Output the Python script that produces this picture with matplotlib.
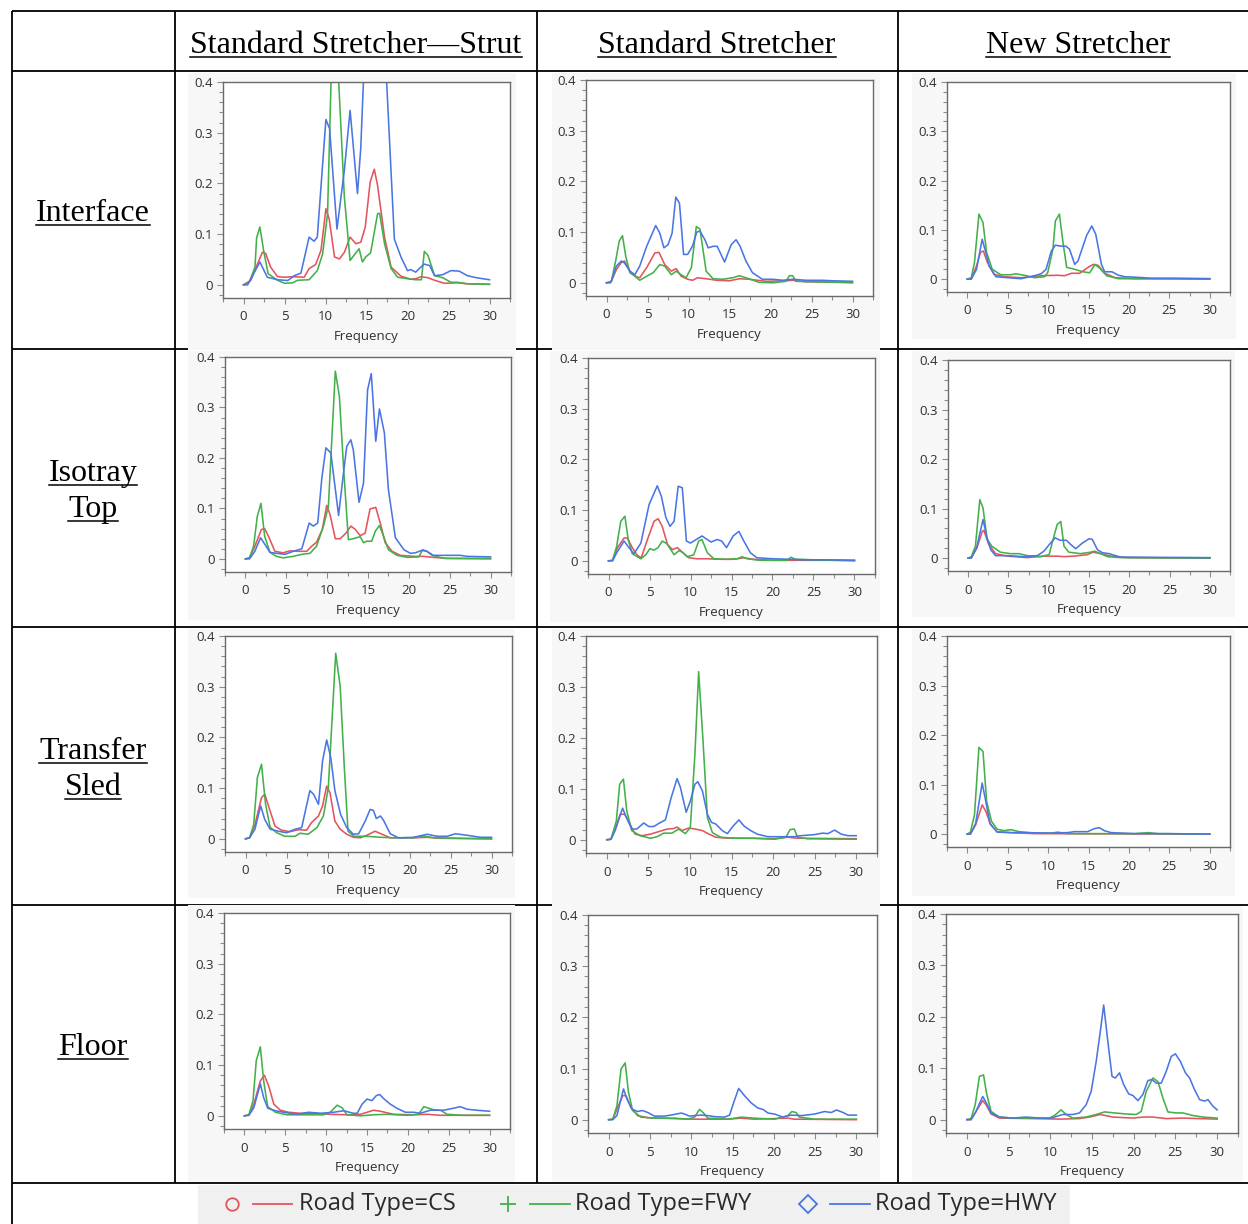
import matplotlib
matplotlib.use("Agg")
import matplotlib.pyplot as plt
from matplotlib.lines import Line2D
from matplotlib.patches import Rectangle
from matplotlib.ticker import MultipleLocator, FixedLocator

# ---------------- data (frequency, value) ----------------
ROW_LABELS = [["Interface"], ["Isotray", "Top"], ["Transfer", "Sled"], ["Floor"]]
COL_LABELS = ["Standard Stretcher\u2014Strut", "Standard Stretcher", "New Stretcher"]
SERIES_NAMES = ["Road Type=CS", "Road Type=FWY", "Road Type=HWY"]
X_TICKS = [0, 5, 10, 15, 20, 25, 30]
Y_TICKS = [0, 0.1, 0.2, 0.3, 0.4]
Y_TICK_LABELS = ["0", "0.1", "0.2", "0.3", "0.4"]

# Interface / Standard Stretcher - Strut
iface_strut_cs = [(0,0),(0.9,0.009),(1.7,0.041),(2.3,0.064),(2.7,0.062),(3.3,0.035),(4.15,0.016),(5.0,0.015),(6.0,0.016),(7.4,0.015),(8.0,0.032),(8.8,0.04),(9.45,0.068),(10.05,0.15),(10.45,0.13),(11.1,0.055),(11.7,0.051),(12.3,0.064),(13.0,0.094),(13.7,0.081),(14.3,0.084),(14.85,0.114),(15.45,0.203),(15.95,0.228),(16.35,0.196),(17.2,0.094),(18.0,0.035),(19.2,0.017),(20.4,0.011),(21.0,0.012),(21.65,0.016),(22.5,0.014),(23.3,0.009),(24.5,0.003),(26.1,0.004),(27.3,0.002),(30,0.001)]
iface_strut_fwy = [(0,0),(0.7,0.005),(1.4,0.035),(1.6,0.093),(2.0,0.114),(2.45,0.068),(3.0,0.022),(4.15,0.009),(5.0,0.003),(6.0,0.004),(6.6,0.009),(8.0,0.01),(9.0,0.028),(9.65,0.061),(10.25,0.14),(11.0,0.6),(12.3,0.173),(13.0,0.048),(13.7,0.063),(14.1,0.071),(14.5,0.045),(14.9,0.055),(15.5,0.063),(16.35,0.14),(16.6,0.141),(17.2,0.081),(18.0,0.032),(18.8,0.015),(20.0,0.012),(21.0,0.01),(21.7,0.01),(22.05,0.066),(22.5,0.058),(23.3,0.018),(24.3,0.014),(25.3,0.005),(26.1,0.005),(27.3,0.002),(30,0.001)]
iface_strut_hwy = [(0,0),(0.5,0),(2.0,0.045),(2.9,0.015),(4.15,0.01),(5.4,0.0085),(6.2,0.018),(7.0,0.023),(8.0,0.094),(8.6,0.086),(9.0,0.094),(10.05,0.326),(10.5,0.308),(11.4,0.11),(12.3,0.226),(13.0,0.344),(13.9,0.18),(14.3,0.27),(15.0,0.55),(16.0,0.62),(17.0,0.55),(18.4,0.09),(19.2,0.055),(20.0,0.028),(20.4,0.03),(21.0,0.025),(22.0,0.041),(22.7,0.038),(23.3,0.018),(24.3,0.02),(25.3,0.028),(26.3,0.027),(27.3,0.018),(28.4,0.014),(30,0.01)]

# Interface / Standard Stretcher
iface_std_cs = [(0,0),(0.6,0.003),(1.2,0.026),(1.8,0.04),(2.2,0.043),(2.85,0.023),(3.65,0.012),(4.05,0.01),(4.9,0.03),(5.9,0.059),(6.4,0.06),(7.1,0.036),(7.9,0.023),(8.5,0.028),(9.1,0.013),(9.9,0.007),(10.5,0.005),(11.1,0.01),(12.2,0.008),(13.4,0.005),(15.0,0.004),(16.2,0.008),(17.4,0.007),(19.5,0.003),(21.9,0.004),(22.7,0.005),(24.3,0.002),(30,0.001)]
iface_std_fwy = [(0,0),(0.6,0.003),(1.15,0.046),(1.55,0.082),(1.95,0.093),(2.35,0.052),(2.85,0.02),(3.45,0.013),(4.05,0.005),(4.9,0.013),(5.7,0.02),(6.5,0.036),(7.1,0.033),(7.9,0.016),(8.5,0.023),(8.9,0.018),(9.7,0.01),(10.35,0.03),(10.95,0.111),(11.4,0.106),(12.15,0.023),(13.0,0.008),(14.2,0.007),(15.4,0.01),(16.2,0.014),(17.0,0.01),(18.6,0.001),(20.3,0.0),(21.9,0.003),(22.3,0.014),(22.7,0.014),(23.1,0.003),(30,0.0)]
iface_std_hwy = [(0,0),(0.5,0),(1.2,0.033),(1.8,0.043),(2.2,0.039),(2.85,0.023),(3.45,0.016),(4.05,0.033),(4.9,0.072),(6.0,0.113),(6.5,0.098),(7.0,0.069),(7.5,0.075),(8.0,0.098),(8.45,0.169),(8.9,0.157),(9.4,0.056),(9.9,0.056),(10.5,0.073),(11.0,0.1),(11.4,0.102),(12.0,0.085),(12.4,0.069),(13.0,0.072),(13.5,0.072),(14.4,0.041),(15.2,0.075),(15.8,0.085),(16.3,0.072),(17.0,0.043),(17.8,0.02),(19.0,0.007),(20.3,0.007),(21.5,0.005),(22.7,0.007),(24.3,0.005),(26.3,0.005),(27.6,0.004),(30,0.003)]

# Interface / New Stretcher
iface_new_cs = [(0,0),(0.5,0.001),(1.15,0.027),(1.65,0.055),(2.0,0.057),(2.5,0.034),(3.3,0.01),(4.55,0.005),(6.65,0.003),(9.15,0.007),(11.2,0.008),(12.05,0.007),(12.9,0.012),(13.9,0.012),(14.95,0.024),(15.6,0.03),(16.2,0.028),(17.0,0.012),(18.3,0.003),(20.8,0.001),(30,0.001)]
iface_new_fwy = [(0,0),(0.5,0.003),(0.9,0.034),(1.45,0.132),(1.95,0.115),(2.4,0.054),(3.1,0.02),(4.15,0.009),(5.4,0.009),(6.0,0.011),(7.05,0.008),(8.3,0.003),(9.55,0.005),(9.95,0.013),(10.6,0.061),(10.9,0.118),(11.4,0.132),(11.85,0.074),(12.3,0.024),(13.3,0.02),(14.3,0.015),(15.15,0.013),(15.8,0.03),(16.4,0.022),(17.25,0.007),(18.7,0.001),(22.4,0.001),(30,0.0)]
iface_new_hwy = [(0,0),(0.5,0),(1.15,0.02),(1.85,0.081),(2.3,0.054),(2.7,0.027),(3.55,0.005),(5.0,0.003),(6.65,0.001),(8.3,0.007),(9.15,0.011),(9.75,0.02),(10.4,0.057),(10.9,0.069),(11.6,0.067),(12.2,0.067),(12.65,0.061),(13.3,0.03),(13.7,0.037),(14.75,0.088),(15.4,0.108),(15.9,0.091),(16.6,0.03),(17.0,0.015),(17.9,0.015),(18.7,0.008),(19.5,0.005),(20.8,0.004),(22.8,0.002),(25.8,0.002),(30,0.001)]

# Isotray Top / Standard Stretcher - Strut
iso_strut_cs = [(0,0),(0.5,0.002),(1.15,0.025),(1.95,0.058),(2.35,0.06),(2.9,0.042),(3.6,0.015),(4.6,0.012),(5.45,0.016),(6.45,0.015),(7.5,0.015),(8.1,0.025),(8.7,0.033),(9.4,0.058),(9.95,0.106),(10.35,0.088),(11.0,0.04),(11.6,0.04),(12.3,0.051),(12.9,0.065),(13.4,0.059),(14.05,0.046),(14.65,0.051),(15.25,0.099),(15.95,0.102),(16.5,0.071),(17.1,0.032),(17.95,0.015),(18.95,0.007),(20.6,0.005),(21.8,0.005),(23.0,0.003),(24.7,0.001),(30,0.001)]
iso_strut_fwy = [(0,0),(0.5,0.002),(1.0,0.025),(1.45,0.084),(1.9,0.11),(2.35,0.045),(3.0,0.013),(3.8,0.005),(4.6,0.002),(5.85,0.005),(6.9,0.009),(7.9,0.011),(8.7,0.025),(9.55,0.065),(10.15,0.104),(11.0,0.372),(11.5,0.322),(12.0,0.183),(12.6,0.038),(13.2,0.04),(14.05,0.044),(14.45,0.032),(14.85,0.035),(15.45,0.035),(15.9,0.055),(16.4,0.066),(16.9,0.045),(17.5,0.018),(18.55,0.007),(19.8,0.003),(21.2,0.004),(21.7,0.018),(22.2,0.015),(22.85,0.007),(24.3,0.001),(30,0.0)]
iso_strut_hwy = [(0,0),(0.5,0),(1.15,0.015),(1.85,0.042),(2.25,0.032),(3.0,0.013),(3.8,0.011),(4.85,0.009),(5.85,0.015),(6.9,0.02),(7.8,0.071),(8.3,0.065),(8.85,0.071),(9.35,0.16),(9.85,0.22),(10.45,0.21),(11.4,0.086),(12.0,0.17),(12.4,0.223),(12.9,0.236),(13.2,0.216),(13.9,0.112),(14.45,0.15),(14.95,0.335),(15.4,0.367),(15.95,0.233),(16.4,0.297),(17.0,0.25),(17.5,0.137),(18.35,0.042),(19.4,0.018),(20.2,0.011),(20.8,0.012),(21.6,0.017),(22.2,0.015),(23.0,0.007),(24.7,0.007),(26.3,0.007),(27.1,0.005),(30,0.004)]

# Isotray Top / Standard Stretcher
iso_std_cs = [(0,0),(0.5,0.001),(1.1,0.026),(1.9,0.045),(2.3,0.045),(2.9,0.026),(3.5,0.011),(4.0,0.006),(4.75,0.042),(5.55,0.078),(6.05,0.083),(6.55,0.068),(7.2,0.032),(7.8,0.022),(8.4,0.026),(9.0,0.017),(9.8,0.006),(10.8,0.004),(12.05,0.004),(13.65,0.003),(15.3,0.003),(16.5,0.006),(17.7,0.003),(20.15,0.001),(30,0.001)]
iso_std_fwy = [(0,0),(0.5,0.001),(1.0,0.029),(1.5,0.078),(2.0,0.088),(2.4,0.042),(2.9,0.014),(3.95,0.004),(4.55,0.012),(5.05,0.024),(5.55,0.021),(6.05,0.026),(6.55,0.039),(7.1,0.034),(8.0,0.012),(8.6,0.02),(9.0,0.017),(9.6,0.008),(10.4,0.012),(11.0,0.039),(11.4,0.042),(12.05,0.016),(12.85,0.004),(14.5,0.003),(15.7,0.004),(16.3,0.008),(16.9,0.004),(18.5,0.001),(21.8,0.001),(22.25,0.007),(22.8,0.003),(30,0.0)]
iso_std_hwy = [(0,0),(0.5,0),(1.0,0.016),(1.9,0.039),(2.4,0.028),(3.1,0.014),(3.95,0.035),(4.95,0.111),(5.95,0.148),(6.45,0.127),(7.0,0.085),(7.5,0.068),(8.0,0.078),(8.5,0.147),(9.0,0.144),(9.5,0.039),(10.0,0.035),(10.8,0.043),(11.4,0.049),(12.05,0.042),(12.5,0.037),(13.25,0.042),(13.8,0.039),(14.4,0.026),(15.2,0.049),(15.9,0.058),(16.5,0.039),(17.3,0.016),(18.1,0.006),(20.15,0.004),(22.2,0.003),(24.2,0.002),(26.6,0.002),(30,0.001)]

# Isotray Top / New Stretcher
iso_new_cs = [(0,0),(0.4,0.001),(1.1,0.021),(1.75,0.054),(1.95,0.056),(2.55,0.028),(3.4,0.009),(4.85,0.004),(7.35,0.001),(9.4,0.004),(11.05,0.004),(11.9,0.003),(13.15,0.004),(14.8,0.007),(15.5,0.012),(16.45,0.009),(17.7,0.004),(19.8,0.001),(30,0.0)]
iso_new_fwy = [(0,0),(0.4,0.003),(0.9,0.024),(1.45,0.118),(1.85,0.101),(2.35,0.038),(2.95,0.024),(4.0,0.012),(5.25,0.009),(6.3,0.009),(7.35,0.005),(9.0,0.003),(10.05,0.007),(10.65,0.044),(11.05,0.068),(11.5,0.074),(11.9,0.024),(12.5,0.012),(13.95,0.009),(15.2,0.012),(15.7,0.014),(16.45,0.009),(17.3,0.003),(18.95,0.001),(30,0.0)]
iso_new_hwy = [(0,0),(0.4,0),(1.05,0.021),(1.85,0.078),(2.3,0.044),(2.8,0.017),(3.4,0.005),(4.85,0.005),(6.9,0.003),(8.6,0.005),(9.4,0.014),(10.25,0.031),(10.8,0.041),(11.4,0.036),(12.2,0.036),(12.7,0.028),(13.35,0.019),(14.15,0.03),(15.0,0.039),(15.4,0.038),(16.05,0.017),(16.65,0.011),(17.5,0.009),(18.1,0.006),(18.95,0.002),(30,0.001)]

# Transfer Sled / Standard Stretcher - Strut
sled_strut_cs = [(0,0),(0.5,0.002),(1.15,0.028),(1.95,0.081),(2.35,0.088),(3.0,0.055),(3.6,0.025),(4.4,0.017),(5.4,0.014),(6.45,0.018),(7.45,0.017),(8.05,0.032),(8.9,0.045),(9.4,0.065),(9.9,0.104),(10.3,0.091),(10.9,0.035),(11.55,0.019),(12.35,0.009),(13.15,0.003),(14.0,0.002),(14.8,0.007),(15.8,0.015),(16.65,0.009),(17.65,0.002),(20.5,0.002),(22.15,0.003),(23.75,0.001),(30,0.0)]
sled_strut_fwy = [(0,0),(0.5,0.002),(1.0,0.028),(1.45,0.121),(1.95,0.147),(2.45,0.068),(3.0,0.023),(3.8,0.012),(4.8,0.005),(6.05,0.005),(6.65,0.011),(7.65,0.009),(8.7,0.022),(9.5,0.045),(10.1,0.101),(11.0,0.366),(11.55,0.3),(12.05,0.141),(12.5,0.015),(13.2,0.005),(14.8,0.005),(16.45,0.003),(18.05,0.002),(20.5,0.002),(21.9,0.005),(22.95,0.002),(30,0.0)]
sled_strut_hwy = [(0,0),(0.5,0.002),(1.15,0.019),(1.85,0.065),(2.35,0.038),(3.0,0.019),(4.0,0.015),(5.0,0.012),(6.05,0.019),(6.85,0.022),(7.85,0.095),(8.3,0.088),(8.9,0.068),(9.4,0.154),(9.9,0.195),(10.4,0.16),(10.9,0.095),(11.6,0.048),(12.35,0.022),(13.15,0.009),(13.8,0.01),(14.6,0.035),(15.2,0.058),(15.6,0.056),(15.95,0.04),(16.45,0.045),(16.85,0.036),(17.65,0.01),(18.65,0.002),(20.5,0.003),(22.15,0.009),(23.35,0.005),(24.6,0.005),(25.6,0.01),(27.0,0.007),(28.65,0.003),(30,0.003)]

# Transfer Sled / Standard Stretcher
sled_std_cs = [(0,0),(0.5,0.001),(1.15,0.027),(1.6,0.05),(2.15,0.05),(2.6,0.037),(3.4,0.011),(4.25,0.008),(5.25,0.011),(6.25,0.016),(7.25,0.021),(8.05,0.022),(8.45,0.025),(9.05,0.018),(9.85,0.023),(10.65,0.021),(11.5,0.018),(12.3,0.011),(13.1,0.005),(14.5,0.003),(16.9,0.003),(20.15,0.002),(21.75,0.005),(22.95,0.003),(30,0.002)]
sled_std_fwy = [(0,0),(0.5,0.001),(1.15,0.037),(1.55,0.109),(2.0,0.119),(2.4,0.057),(3.0,0.018),(4.0,0.008),(5.25,0.003),(6.05,0.006),(6.85,0.013),(7.85,0.013),(8.65,0.021),(9.45,0.012),(10.05,0.024),(10.6,0.168),(11.05,0.33),(11.55,0.201),(12.1,0.044),(12.7,0.014),(13.7,0.005),(15.3,0.003),(17.7,0.003),(20.15,0.001),(21.55,0.005),(22.05,0.02),(22.55,0.021),(22.95,0.005),(24.15,0.002),(30,0.001)]
sled_std_hwy = [(0,0),(0.5,0.001),(1.0,0.018),(1.9,0.062),(2.35,0.044),(3.0,0.021),(3.6,0.021),(4.45,0.033),(5.05,0.026),(5.65,0.026),(6.25,0.032),(7.05,0.039),(7.75,0.083),(8.45,0.12),(8.85,0.103),(9.55,0.054),(10.05,0.076),(10.6,0.109),(10.95,0.114),(11.5,0.096),(12.1,0.05),(12.6,0.034),(13.1,0.031),(13.9,0.018),(14.5,0.012),(15.2,0.027),(15.9,0.039),(16.5,0.027),(17.3,0.018),(18.1,0.011),(19.35,0.006),(20.95,0.006),(22.55,0.006),(23.35,0.008),(24.95,0.01),(25.95,0.013),(26.6,0.012),(27.4,0.019),(28.2,0.011),(29.0,0.008),(30,0.008)]

# Transfer Sled / New Stretcher
sled_new_cs = [(0,0),(0.4,0),(1.05,0.019),(1.85,0.059),(2.3,0.046),(2.9,0.019),(3.7,0.005),(5.4,0.003),(8.3,0.001),(30,0.0)]
sled_new_fwy = [(0,0),(0.4,0.004),(0.9,0.039),(1.45,0.175),(1.95,0.167),(2.4,0.066),(3.0,0.026),(3.7,0.01),(4.55,0.007),(5.4,0.009),(6.4,0.005),(8.3,0.002),(10.35,0.002),(11.2,0.004),(12.4,0.001),(17.4,0.001),(20.7,0.001),(22.35,0.003),(23.6,0.001),(30,0.0)]
sled_new_hwy = [(0,0),(0.4,0),(1.05,0.022),(1.85,0.103),(2.3,0.066),(2.8,0.022),(3.7,0.004),(5.4,0.003),(7.45,0.003),(10.35,0.002),(12.4,0.003),(13.25,0.005),(14.9,0.005),(15.7,0.011),(16.35,0.013),(16.95,0.007),(17.8,0.003),(20.7,0.001),(24.8,0.001),(30,0.0)]

# Floor / Standard Stretcher - Strut
floor_strut_cs = [(0,0),(0.55,0.002),(1.15,0.023),(1.95,0.069),(2.45,0.08),(3.0,0.057),(3.6,0.023),(4.4,0.011),(5.4,0.007),(6.85,0.005),(8.5,0.005),(10.5,0.003),(12.55,0.002),(14.2,0.003),(15.8,0.011),(16.65,0.009),(18.25,0.003),(20.7,0.002),(22.35,0.003),(23.95,0.001),(30,0.001)]
floor_strut_fwy = [(0,0),(0.55,0.002),(1.05,0.03),(1.45,0.109),(1.95,0.136),(2.35,0.069),(2.85,0.018),(3.8,0.007),(5.2,0.002),(7.65,0.002),(9.7,0.002),(10.5,0.007),(11.35,0.021),(11.95,0.016),(12.55,0.002),(14.2,0.0),(15.8,0.002),(17.45,0.003),(19.9,0.001),(21.3,0.003),(21.95,0.018),(22.55,0.015),(23.15,0.012),(24.0,0.011),(24.8,0.003),(26.8,0.001),(30,0.001)]
floor_strut_hwy = [(0,0),(0.55,0.001),(1.15,0.016),(1.95,0.063),(2.35,0.036),(2.85,0.015),(3.8,0.01),(4.8,0.007),(6.45,0.003),(7.85,0.007),(9.3,0.005),(10.9,0.007),(12.15,0.01),(13.35,0.005),(13.8,0.005),(14.4,0.023),(15.0,0.033),(15.6,0.03),(16.15,0.04),(16.55,0.042),(17.1,0.033),(17.85,0.023),(18.65,0.015),(19.7,0.007),(20.7,0.007),(21.5,0.005),(22.75,0.011),(24.4,0.011),(25.6,0.015),(26.4,0.018),(27.25,0.013),(28.45,0.011),(30,0.009)]

# Floor / Standard Stretcher
floor_std_cs = [(0,0),(0.5,0.001),(1.1,0.024),(1.7,0.047),(2.1,0.047),(2.7,0.024),(3.5,0.008),(4.75,0.004),(8.0,0.002),(10.4,0.001),(14.45,0.001),(16.05,0.003),(17.65,0.001),(21.7,0.003),(22.5,0.001),(30,0.0)]
floor_std_fwy = [(0,0),(0.5,0.001),(1.0,0.027),(1.5,0.099),(2.0,0.111),(2.4,0.054),(2.9,0.018),(3.9,0.005),(5.55,0.003),(8.0,0.003),(9.6,0.001),(10.4,0.005),(11.0,0.02),(11.5,0.013),(12.0,0.003),(14.45,0.001),(16.05,0.005),(17.65,0.003),(20.1,0.001),(21.7,0.008),(22.2,0.016),(22.7,0.014),(23.1,0.005),(24.95,0.001),(30,0.001)]
floor_std_hwy = [(0,0),(0.5,0),(1.0,0.008),(1.8,0.06),(2.2,0.041),(2.8,0.021),(3.5,0.016),(4.1,0.018),(4.75,0.014),(5.55,0.007),(6.75,0.007),(7.55,0.009),(8.8,0.013),(9.2,0.011),(9.8,0.007),(10.4,0.008),(11.2,0.009),(12.0,0.008),(12.8,0.006),(14.05,0.005),(14.65,0.009),(15.15,0.034),(15.75,0.061),(16.45,0.047),(17.25,0.033),(18.05,0.023),(18.7,0.02),(19.3,0.013),(20.1,0.011),(21.1,0.005),(22.1,0.009),(23.35,0.008),(24.95,0.011),(26.15,0.016),(26.95,0.014),(27.6,0.019),(28.4,0.014),(29.0,0.009),(30,0.009)]

# Floor / New Stretcher
floor_new_cs = [(0,0),(0.5,0),(1.0,0.013),(1.9,0.037),(2.3,0.029),(2.9,0.011),(3.9,0.003),(7.9,0.002),(11.1,0.001),(13.5,0.002),(14.7,0.005),(16.0,0.01),(17.5,0.005),(19.9,0.003),(21.1,0.005),(22.3,0.005),(23.9,0.002),(25.9,0.003),(27.9,0.002),(30,0.001)]
floor_new_fwy = [(0,0),(0.5,0.002),(1.0,0.029),(1.5,0.084),(2.0,0.087),(2.35,0.052),(2.9,0.016),(3.9,0.005),(5.5,0.003),(7.9,0.003),(9.9,0.003),(10.5,0.008),(11.3,0.019),(11.9,0.01),(12.7,0.003),(14.3,0.005),(15.5,0.01),(16.5,0.015),(17.7,0.013),(19.1,0.011),(20.3,0.01),(20.9,0.016),(21.5,0.055),(22.3,0.081),(22.9,0.074),(23.5,0.042),(24.1,0.015),(25.1,0.013),(25.9,0.013),(27.1,0.008),(28.3,0.005),(30,0.003)]
floor_new_hwy = [(0,0),(0.5,0),(1.0,0.013),(1.9,0.045),(2.35,0.032),(2.9,0.013),(3.9,0.005),(5.5,0.003),(7.1,0.005),(8.7,0.003),(10.1,0.003),(10.7,0.006),(11.5,0.01),(12.7,0.01),(13.5,0.013),(14.3,0.029),(14.9,0.055),(15.5,0.113),(16.0,0.172),(16.4,0.223),(16.9,0.152),(17.4,0.084),(17.8,0.081),(18.3,0.091),(18.8,0.068),(19.4,0.05),(19.9,0.047),(20.5,0.037),(21.1,0.049),(21.7,0.076),(22.2,0.078),(22.7,0.071),(23.3,0.071),(23.9,0.094),(24.5,0.123),(25.0,0.128),(25.6,0.113),(26.2,0.091),(26.7,0.081),(27.3,0.058),(27.9,0.039),(28.5,0.036),(28.9,0.039),(29.5,0.026),(30,0.019)]

GRID = [
    [(iface_strut_cs, iface_strut_fwy, iface_strut_hwy), (iface_std_cs, iface_std_fwy, iface_std_hwy), (iface_new_cs, iface_new_fwy, iface_new_hwy)],
    [(iso_strut_cs, iso_strut_fwy, iso_strut_hwy), (iso_std_cs, iso_std_fwy, iso_std_hwy), (iso_new_cs, iso_new_fwy, iso_new_hwy)],
    [(sled_strut_cs, sled_strut_fwy, sled_strut_hwy), (sled_std_cs, sled_std_fwy, sled_std_hwy), (sled_new_cs, sled_new_fwy, sled_new_hwy)],
    [(floor_strut_cs, floor_strut_fwy, floor_strut_hwy), (floor_std_cs, floor_std_fwy, floor_std_hwy), (floor_new_cs, floor_new_fwy, floor_new_hwy)],
]

COLORS = ["#e4545e", "#43b04a", "#4a76e4"]

# ---------------- layout (pixels) ----------------
W, H = 1248, 1224
fig = plt.figure(figsize=(W / 100, H / 100), dpi=100)
fig.patch.set_facecolor("white")

def fx(x):
    return x / W

def fy(y):
    return 1 - y / H

def fline(xs, ys, **kw):
    fig.add_artist(Line2D([fx(v) for v in xs], [fy(v) for v in ys],
                          transform=fig.transFigure, **kw))

# table lines
TL = dict(color="black", lw=1.3, zorder=0.5, solid_capstyle="butt")
for y in [11, 71, 349, 627, 905, 1183]:
    fline([12, 1248], [y, y], **TL)
fline([12, 12], [11, 1224], **TL)
for x in [175, 537, 898]:
    fline([x, x], [11, 1183], **TL)

# gray panel backgrounds (x0, y0, x1, y1)
PANELS = [
    [(188, 73, 516, 350), (552, 73, 880, 350), (912, 73, 1236, 339)],
    [(188, 351, 515, 620), (550, 351, 880, 622), (912, 351, 1235, 617)],
    [(188, 629, 515, 898), (552, 629, 880, 906), (912, 629, 1235, 896)],
    [(188, 905, 515, 1182), (552, 905, 880, 1182), (912, 906, 1243, 1182)],
]
# axes frames (left, top, right, bottom)
AXES = [
    [(223, 82, 510, 298), (586, 80, 873, 296), (947, 82, 1230, 292)],
    [(225, 357, 511, 572), (588, 358, 875, 574), (948, 360, 1230, 571)],
    [(225, 636, 512, 852), (586, 636, 877, 853), (947, 636, 1230, 847)],
    [(224, 913, 510, 1129), (588, 915, 877, 1133), (946, 914, 1238, 1133)],
]

TICK_FONT = "Open Sans"
for r in range(4):
    for c in range(3):
        x0, y0, x1, y1 = PANELS[r][c]
        fig.add_artist(Rectangle((fx(x0), fy(y1)), (x1 - x0) / W, (y1 - y0) / H,
                                 transform=fig.transFigure, facecolor="#f7f7f7",
                                 edgecolor="none", zorder=0.8))
        l, t, rr, b = AXES[r][c]
        ax = fig.add_axes([fx(l), fy(b), (rr - l) / W, (b - t) / H])
        ax.set_zorder(1)
        ax.set_facecolor("white")
        for s, col in zip(GRID[r][c], COLORS):
            ax.plot([p[0] for p in s], [p[1] for p in s], color=col, lw=1.15)
        ax.set_xlim(-2.5, 32.5)
        ax.set_ylim(-0.026, 0.4)
        ax.xaxis.set_major_locator(FixedLocator(X_TICKS))
        ax.xaxis.set_minor_locator(MultipleLocator(2.5))
        ax.yaxis.set_major_locator(FixedLocator(Y_TICKS))
        ax.yaxis.set_minor_locator(MultipleLocator(0.02))
        ax.set_yticklabels(Y_TICK_LABELS)
        for sp in ax.spines.values():
            sp.set_color("#6a6a6a")
            sp.set_linewidth(1.0)
        ax.tick_params(which="major", length=4, width=0.8, color="#8c8c8c",
                       labelsize=9.5, labelcolor="#2f2f2f")
        ax.tick_params(which="minor", length=3, width=0.8, color="#8c8c8c")
        ax.tick_params(axis="x", pad=5)
        ax.tick_params(axis="y", pad=3)
        for lab in ax.get_xticklabels() + ax.get_yticklabels():
            lab.set_fontfamily(TICK_FONT)
        ax.set_xlabel("Frequency", fontsize=9.5, color="#2f2f2f",
                      family=TICK_FONT, labelpad=5)

# header and row labels
SERIF = "Liberation Serif"
under = []
for cx, lab in zip([356, 717, 1078], COL_LABELS):
    t = fig.text(fx(cx), fy(53), lab, ha="center", va="baseline",
                 fontsize=23, family=SERIF, zorder=3)
    under.append((t, 53))
ROW_CENTERS = [211, 489, 767, 1045]
for cy, lines in zip(ROW_CENTERS, ROW_LABELS):
    if len(lines) == 1:
        bases = [cy + 10]
    else:
        bases = [cy - 8, cy + 28]
    for bl, txt in zip(bases, lines):
        t = fig.text(fx(93), fy(bl), txt, ha="center", va="baseline",
                     fontsize=23, family=SERIF, zorder=3)
        under.append((t, bl))

fig.canvas.draw()
rend = fig.canvas.get_renderer()
for t, bl in under:
    bb = t.get_window_extent(rend)
    fline([bb.x0, bb.x1], [bl + 4, bl + 4], color="black", lw=1.1, zorder=3)

# legend
fig.add_artist(Rectangle((fx(198), fy(1224)), (1070 - 198) / W, (1224 - 1185) / H,
                         transform=fig.transFigure, facecolor="#f0f0f0",
                         edgecolor="none", zorder=2))
LEG_Y = 1204
LEG_ITEMS = [(232, 253, 292, 299, "o"), (508, 530, 570, 575, "+"), (808, 830, 870, 875, "D")]
for (mx, lx0, lx1, tx, mk), col, name in zip(LEG_ITEMS, COLORS, SERIES_NAMES):
    ms = {"o": 9, "+": 12, "D": 9}[mk]
    fig.add_artist(Line2D([fx(mx)], [fy(LEG_Y)], marker=mk, markersize=ms,
                          markerfacecolor="none", markeredgecolor=col,
                          markeredgewidth=1.3, linestyle="none",
                          transform=fig.transFigure, zorder=3))
    fline([lx0, lx1], [LEG_Y, LEG_Y], color=col, lw=1.3, zorder=3)
    fig.text(fx(tx), fy(LEG_Y), name, ha="left", va="center", fontsize=17,
             family=TICK_FONT, color="#2a2a2a", zorder=3)

fig.savefig("out.png", dpi=100, facecolor="white")
